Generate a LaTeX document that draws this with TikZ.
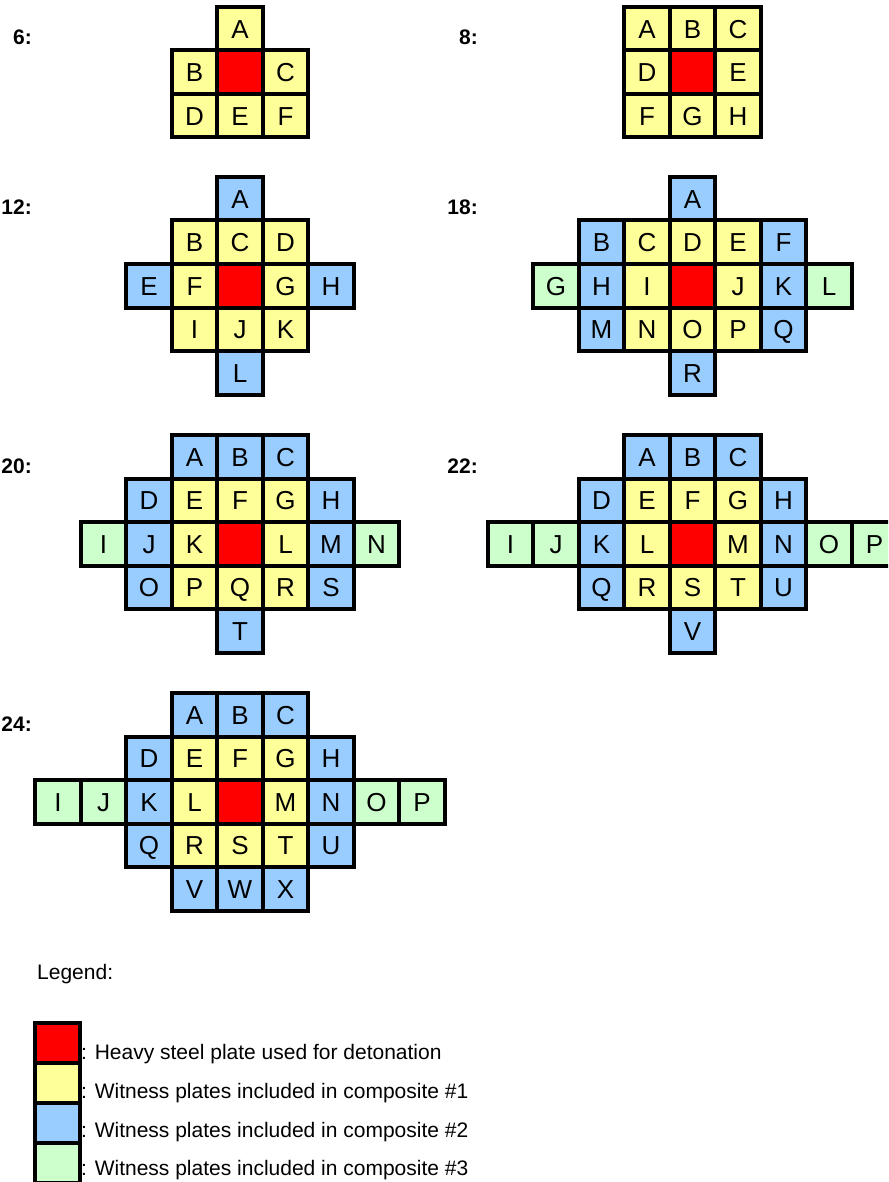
\documentclass[tikz,border=0pt]{standalone}
\usepackage{fontspec}
\setmainfont{Liberation Sans}
\definecolor{cyel}{HTML}{FFFF99}
\definecolor{cred}{HTML}{FF0000}
\definecolor{cblu}{HTML}{99CCFF}
\definecolor{cgrn}{HTML}{CCFFCC}
\begin{document}
\begin{tikzpicture}[x=1pt,y=-1pt,
  cell/.style={draw=black, line width=4pt, minimum width=45.5pt, minimum height=43.5pt,
    inner sep=0pt, outer sep=0pt, font=\fontsize{26}{30}\selectfont, text height=18.6pt, text depth=0pt},
  redcell/.style={cell, fill=cred},
  lab/.style={anchor=base east, inner sep=0pt, font=\fontsize{21}{25}\selectfont\bfseries},
  legbox/.style={draw=black, line width=3.5pt, minimum width=45pt, minimum height=40pt, inner sep=0pt, outer sep=0pt},
  legtext/.style={anchor=base west, inner sep=0pt, font=\fontsize{21}{25}\selectfont}]
\useasboundingbox (0,0) rectangle (888,1182);
\clip (0,0) rectangle (888,1182);
% ---------- 6 ----------
\node[lab] (l6) at (32,45) {6:};
\foreach \c/\r/\t/\f in {0/0/A/cyel,-1/1/B/cyel,1/1/C/cyel,-1/2/D/cyel,0/2/E/cyel,1/2/F/cyel}
  \node[cell,fill=\f] (d6\t) at ({240+\c*45.5},{28.75+\r*43.5}) {\t};
\node[redcell] (d6c) at (240,{28.75+43.5}) {};
% ---------- 8 ----------
\node[lab] (l8) at (478,45) {8:};
\foreach \c/\r/\t/\f in {-1/0/A/cyel,0/0/B/cyel,1/0/C/cyel,-1/1/D/cyel,1/1/E/cyel,-1/2/F/cyel,0/2/G/cyel,1/2/H/cyel}
  \node[cell,fill=\f] (d8\t) at ({692.5+\c*45.5},{28.75+\r*43.5}) {\t};
\node[redcell] (d8c) at (692.5,{28.75+43.5}) {};
% ---------- 12 ----------
\node[lab] (l12) at (32,215) {12:};
\foreach \c/\r/\t/\f in {0/0/A/cblu,-1/1/B/cyel,0/1/C/cyel,1/1/D/cyel,
   -2/2/E/cblu,-1/2/F/cyel,1/2/G/cyel,2/2/H/cblu,
   -1/3/I/cyel,0/3/J/cyel,1/3/K/cyel,0/4/L/cblu}
  \node[cell,fill=\f] (d12\t) at ({240+\c*45.5},{198.75+\r*43.5}) {\t};
\node[redcell] (d12c) at (240,{198.75+2*43.5}) {};
% ---------- 18 ----------
\node[lab] (l18) at (478,215) {18:};
\foreach \c/\r/\t/\f in {0/0/A/cblu,-2/1/B/cblu,-1/1/C/cyel,0/1/D/cyel,1/1/E/cyel,2/1/F/cblu,
   -3/2/G/cgrn,-2/2/H/cblu,-1/2/I/cyel,1/2/J/cyel,2/2/K/cblu,3/2/L/cgrn,
   -2/3/M/cblu,-1/3/N/cyel,0/3/O/cyel,1/3/P/cyel,2/3/Q/cblu,0/4/R/cblu}
  \node[cell,fill=\f] (d18\t) at ({692.5+\c*45.5},{198.75+\r*43.5}) {\t};
\node[redcell] (d18c) at (692.5,{198.75+2*43.5}) {};
% ---------- 20 ----------
\node[lab] (l20) at (32,473) {20:};
\foreach \c/\r/\t/\f in {-1/0/A/cblu,0/0/B/cblu,1/0/C/cblu,
   -2/1/D/cblu,-1/1/E/cyel,0/1/F/cyel,1/1/G/cyel,2/1/H/cblu,
   -3/2/I/cgrn,-2/2/J/cblu,-1/2/K/cyel,1/2/L/cyel,2/2/M/cblu,3/2/N/cgrn,
   -2/3/O/cblu,-1/3/P/cyel,0/3/Q/cyel,1/3/R/cyel,2/3/S/cblu,0/4/T/cblu}
  \node[cell,fill=\f] (d20\t) at ({240+\c*45.5},{456.75+\r*43.5}) {\t};
\node[redcell] (d20c) at (240,{456.75+2*43.5}) {};
% ---------- 22 ----------
\node[lab] (l22) at (478,473) {22:};
\foreach \c/\r/\t/\f in {-1/0/A/cblu,0/0/B/cblu,1/0/C/cblu,
   -2/1/D/cblu,-1/1/E/cyel,0/1/F/cyel,1/1/G/cyel,2/1/H/cblu,
   -4/2/I/cgrn,-3/2/J/cgrn,-2/2/K/cblu,-1/2/L/cyel,1/2/M/cyel,2/2/N/cblu,3/2/O/cgrn,4/2/P/cgrn,
   -2/3/Q/cblu,-1/3/R/cyel,0/3/S/cyel,1/3/T/cyel,2/3/U/cblu,0/4/V/cblu}
  \node[cell,fill=\f] (d22\t) at ({692.5+\c*45.5},{456.75+\r*43.5}) {\t};
\node[redcell] (d22c) at (692.5,{456.75+2*43.5}) {};
% ---------- 24 ----------
\node[lab] (l24) at (32,731) {24:};
\foreach \c/\r/\t/\f in {-1/0/A/cblu,0/0/B/cblu,1/0/C/cblu,
   -2/1/D/cblu,-1/1/E/cyel,0/1/F/cyel,1/1/G/cyel,2/1/H/cblu,
   -4/2/I/cgrn,-3/2/J/cgrn,-2/2/K/cblu,-1/2/L/cyel,1/2/M/cyel,2/2/N/cblu,3/2/O/cgrn,4/2/P/cgrn,
   -2/3/Q/cblu,-1/3/R/cyel,0/3/S/cyel,1/3/T/cyel,2/3/U/cblu,
   -1/4/V/cblu,0/4/W/cblu,1/4/X/cblu}
  \node[cell,fill=\f] (d24\t) at ({240+\c*45.5},{714.75+\r*43.5}) {\t};
\node[redcell] (d24c) at (240,{714.75+2*43.5}) {};
% ---------- legend ----------
\node[legtext] (legtitle) at (37,979) {Legend:};
\node[legbox,fill=cred] (lg1) at (57.5,1043) {};
\node[legbox,fill=cyel] (lg2) at (57.5,1083) {};
\node[legbox,fill=cblu] (lg3) at (57.5,1123) {};
\node[legbox,fill=cgrn] (lg4) at (57.5,1163) {};
\node[legtext] (lt1) at (81,1059) {: Heavy steel plate used for detonation};
\node[legtext] (lt2) at (81,1098) {: Witness plates included in composite \#1};
\node[legtext] (lt3) at (81,1137) {: Witness plates included in composite \#2};
\node[legtext] (lt4) at (81,1175.5) {: Witness plates included in composite \#3};
\end{tikzpicture}
\end{document}
